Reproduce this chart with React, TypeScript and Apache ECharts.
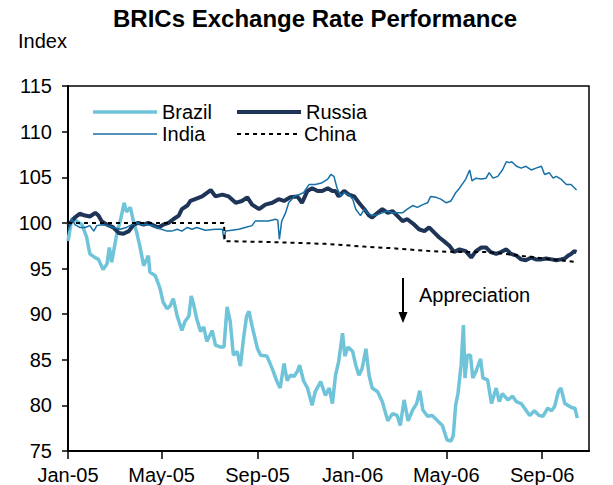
import React, { useEffect, useRef } from "react";
import * as echarts from "echarts";

// x values are days since 1 Jan 2005
const tickDays = [0, 120, 243, 365, 485, 608];
const tickLabels = ["Jan-05", "May-05", "Sep-05", "Jan-06", "May-06", "Sep-06"];

const brazil: [number, number][] = [
  [0, 98.0], [5, 100.5], [11, 100.2], [18, 99.8], [24, 98.4], [28, 96.6], [33, 96.3], [39, 96.0], [45, 94.9], [50, 95.5],
  [53, 97.3], [56, 95.7], [63, 99.0], [67, 100.2], [72, 102.2], [75, 101.2], [80, 101.7], [84, 100.1], [88, 99.0], [93, 97.1],
  [97, 95.3], [103, 96.4], [105, 94.6], [112, 94.2], [116, 93.3], [118, 92.8], [122, 91.3], [127, 90.6], [131, 90.9], [135, 91.7],
  [140, 89.8], [146, 88.2], [150, 89.2], [155, 89.8], [158, 92.0], [161, 91.1], [165, 89.5], [170, 88.1], [174, 88.6], [178, 87.0],
  [185, 88.2], [189, 86.6], [195, 86.4], [200, 86.4], [204, 90.8], [208, 89.2], [212, 85.5], [217, 85.9], [221, 84.3], [225, 87.3],
  [229, 89.8], [232, 90.3], [236, 88.7], [243, 86.2], [247, 85.5], [255, 85.4], [262, 84.0], [268, 82.6], [272, 81.9], [277, 84.6],
  [281, 82.7], [285, 83.3], [290, 83.2], [294, 83.7], [297, 84.4], [302, 82.7], [307, 81.9], [313, 80.0], [317, 81.5], [324, 82.6],
  [330, 81.1], [335, 81.9], [339, 80.2], [343, 83.3], [347, 84.8], [352, 87.9], [355, 85.4], [359, 86.4], [365, 85.9], [369, 84.4],
  [373, 83.3], [377, 84.0], [382, 86.2], [386, 83.3], [390, 81.9], [397, 81.5], [403, 80.4], [410, 78.3], [416, 79.1], [422, 78.9],
  [426, 77.8], [431, 80.6], [436, 78.3], [442, 79.5], [447, 80.2], [451, 81.6], [455, 79.5], [461, 78.8], [467, 78.9], [474, 78.3],
  [480, 77.8], [486, 76.2], [491, 76.1], [494, 76.7], [497, 80.0], [500, 81.3], [504, 84.4], [507, 88.8], [509, 83.0], [512, 85.5],
  [516, 85.5], [519, 83.0], [523, 83.7], [529, 85.1], [532, 83.0], [538, 82.8], [543, 80.2], [549, 81.9], [553, 80.4], [557, 81.3],
  [564, 80.6], [570, 81.0], [575, 80.4], [581, 80.2], [587, 79.5], [592, 78.9], [598, 79.4], [604, 78.9], [609, 78.8], [615, 79.7],
  [620, 79.4], [624, 79.9], [629, 81.6], [632, 81.9], [637, 80.2], [641, 80.0], [647, 79.7], [650, 79.7], [653, 78.6],
];

const russia: [number, number][] = [
  [0, 99.7], [5, 100.2], [9, 100.6], [15, 101.0], [22, 100.8], [28, 100.7], [35, 101.1], [39, 100.8], [43, 100.2], [50, 99.8],
  [58, 99.5], [65, 98.9], [71, 98.8], [78, 99.1], [84, 99.8], [90, 100.0], [97, 99.8], [103, 100.0], [110, 99.7], [116, 99.5],
  [122, 99.8], [129, 100.0], [135, 100.4], [142, 100.8], [146, 101.5], [153, 101.9], [157, 102.4], [163, 102.6], [172, 102.9], [183, 103.6],
  [189, 102.9], [198, 103.1], [206, 102.9], [215, 102.2], [223, 102.4], [230, 102.8], [236, 102.0], [245, 101.5], [253, 102.0], [262, 102.2],
  [270, 102.6], [277, 102.4], [285, 102.8], [294, 102.9], [300, 102.2], [307, 103.5], [313, 103.8], [320, 103.5], [326, 103.5], [333, 103.8],
  [339, 103.5], [343, 103.5], [347, 102.9], [354, 103.5], [360, 103.1], [367, 102.9], [373, 102.2], [380, 101.5], [386, 100.8], [390, 100.6],
  [397, 101.1], [403, 101.5], [410, 101.1], [416, 101.3], [422, 100.8], [429, 100.2], [435, 100.4], [444, 99.8], [450, 99.3], [457, 99.1],
  [463, 99.5], [470, 98.9], [476, 98.4], [482, 98.0], [489, 97.5], [495, 96.8], [502, 97.1], [510, 96.9], [517, 96.2], [523, 96.9],
  [530, 97.3], [536, 97.3], [542, 96.8], [549, 96.6], [555, 96.8], [562, 97.1], [568, 96.6], [575, 96.4], [581, 96.0], [587, 95.9],
  [594, 96.2], [600, 96.0], [607, 96.0], [613, 96.1], [620, 96.0], [626, 95.9], [632, 96.0], [637, 96.1], [641, 96.4], [645, 96.6],
  [649, 96.9], [652, 96.8],
];

const india: [number, number][] = [
  [0, 99.1], [5, 100.4], [9, 99.8], [15, 99.5], [22, 99.5], [28, 99.7], [33, 99.1], [37, 99.7], [43, 99.8], [50, 99.7],
  [58, 99.5], [67, 99.3], [75, 99.5], [82, 99.8], [88, 100.0], [95, 99.8], [101, 99.8], [108, 99.7], [114, 99.5], [120, 99.3],
  [127, 99.1], [133, 99.1], [140, 99.3], [146, 99.1], [153, 99.5], [159, 99.3], [165, 99.5], [176, 99.2], [189, 99.3], [198, 99.3],
  [200, 98.2], [202, 99.1], [210, 99.2], [219, 99.3], [227, 99.5], [236, 99.7], [240, 100.2], [249, 100.2], [257, 100.2], [266, 100.4],
  [269, 100.3], [271, 98.2], [274, 100.2], [279, 101.1], [283, 102.2], [290, 102.9], [296, 103.1], [302, 103.3], [309, 104.2], [317, 104.2],
  [326, 104.4], [333, 104.8], [337, 105.3], [341, 105.1], [345, 103.8], [350, 102.9], [354, 103.3], [360, 103.1], [365, 102.6], [369, 101.5],
  [375, 100.8], [380, 101.5], [384, 101.1], [390, 100.8], [397, 100.9], [403, 101.1], [410, 101.3], [416, 101.1], [422, 101.1], [429, 101.1],
  [435, 101.5], [442, 101.9], [448, 101.7], [455, 102.0], [461, 102.2], [465, 102.9], [472, 102.8], [478, 102.6], [485, 102.2], [491, 102.4],
  [497, 103.3], [502, 103.8], [510, 104.8], [515, 105.8], [518, 104.6], [523, 104.9], [530, 104.8], [536, 104.9], [540, 105.5], [545, 104.9],
  [551, 105.1], [557, 105.8], [562, 106.7], [566, 106.6], [569, 106.7], [575, 106.2], [581, 106.0], [587, 106.2], [594, 105.8], [600, 106.0],
  [607, 106.2], [611, 105.3], [617, 105.5], [622, 104.9], [626, 105.1], [632, 104.8], [639, 104.2], [645, 104.2], [652, 103.6],
];

const china: [number, number][] = [
  [0, 100.0], [200, 100.0], [201, 98.0], [260, 97.9], [330, 97.7], [380, 97.4], [420, 97.2], [465, 96.9],
  [500, 96.8], [540, 96.8], [580, 96.4], [620, 96.0], [652, 95.7],
];

const FONT = '"Liberation Sans", Arial, sans-serif';
const DASH_ICON =
  "path://M0,0h4v2h-4z M8,0h4v2h-4z M16,0h4v2h-4z M24,0h4v2h-4z M32,0h4v2h-4z M40,0h4v2h-4z M48,0h4v2h-4z M56,0h4v2h-4z";

export default function App() {
  const ref = useRef<HTMLDivElement>(null);
  useEffect(() => {
    const chart = echarts.init(ref.current!, null, { renderer: "svg" });
    const legend = (name: string, left: number, top: number, icon: string, h: number) => ({
      data: [name],
      left,
      top,
      padding: 0,
      icon,
      itemWidth: 64,
      itemHeight: h,
      itemGap: 0,
      selectedMode: false,
      itemStyle: { borderWidth: 0 },
      textStyle: { fontSize: 20, color: "#000", fontFamily: FONT },
    });
    chart.setOption({
      animation: false,
      backgroundColor: "#fff",
      title: {
        text: "BRICs Exchange Rate Performance",
        left: 113,
        top: 6,
        padding: 0,
        textStyle: { fontSize: 24, fontWeight: "bold", color: "#000", fontFamily: FONT },
      },
      legend: [
        legend("Brazil", 93, 102, "rect", 3.5),
        legend("Russia", 237, 102, "rect", 4),
        legend("India", 93, 124, "rect", 1.5),
        legend("China", 237, 124, DASH_ICON, 2),
      ],
      grid: {
        left: 68,
        right: 24,
        top: 86,
        bottom: 32,
        show: true,
        borderColor: "#000",
        borderWidth: 1.5,
        backgroundColor: "transparent",
      },
      xAxis: {
        type: "value",
        min: 0,
        max: 668,
        axisLine: { lineStyle: { color: "#000", width: 2 } },
        axisTick: { show: true, length: 8, customValues: tickDays, lineStyle: { color: "#000", width: 1.5 } },
        axisLabel: {
          customValues: tickDays,
          formatter: (v: number) => {
            const i = tickDays.indexOf(Math.round(v));
            return i >= 0 ? tickLabels[i] : "";
          },
          fontSize: 20,
          color: "#000",
          fontFamily: FONT,
          margin: 14,
        },
        splitLine: { show: false },
      },
      yAxis: {
        type: "value",
        min: 75,
        max: 115,
        interval: 5,
        axisLine: { show: true, lineStyle: { color: "#000", width: 2 } },
        axisTick: { show: true, length: 6, lineStyle: { color: "#000", width: 1.5 } },
        axisLabel: { fontSize: 20, color: "#000", fontFamily: FONT, margin: 16 },
        splitLine: { show: false },
      },
      series: [
        { name: "Brazil", type: "line", data: brazil, symbol: "none", lineStyle: { color: "#6FC4D9", width: 3.5 }, itemStyle: { color: "#6FC4D9" } },
        { name: "Russia", type: "line", data: russia, symbol: "none", lineStyle: { color: "#1E3557", width: 4 }, itemStyle: { color: "#1E3557" } },
        { name: "India", type: "line", data: india, symbol: "none", lineStyle: { color: "#1670A6", width: 1.5 }, itemStyle: { color: "#1670A6" } },
        { name: "China", type: "line", data: china, symbol: "none", lineStyle: { color: "#000", width: 2, type: [4, 4] }, itemStyle: { color: "#000" } },
      ],
      graphic: [
        { type: "text", left: 18, top: 31, style: { text: "Index", fontSize: 20, fill: "#000", fontFamily: FONT } },
        { type: "line", shape: { x1: 403, y1: 278, x2: 403, y2: 314 }, style: { stroke: "#000", lineWidth: 2 } },
        { type: "polygon", shape: { points: [[398.5, 312], [407.5, 312], [403, 323]] }, style: { fill: "#000" } },
        { type: "text", x: 419, y: 295, style: { text: "Appreciation", fontSize: 20, fill: "#000", fontFamily: FONT, verticalAlign: "middle" } },
      ],
    });
    return () => chart.dispose();
  }, []);
  return <div ref={ref} style={{ position: "fixed", left: 0, top: 0, width: 613, height: 485 }} />;
}
